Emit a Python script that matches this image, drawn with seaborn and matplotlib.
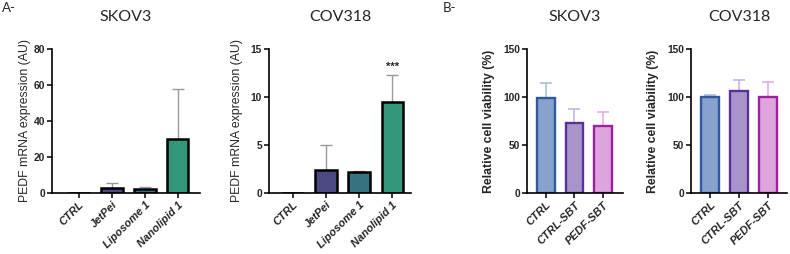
import numpy as np
import pandas as pd
import matplotlib
matplotlib.use("Agg")
import matplotlib.pyplot as plt
import seaborn as sns

# ---------------- data ----------------
a_categories = ["CTRL", "JetPei", "Liposome 1", "Nanolipid 1"]
skov3_mrna = [0.0, 3.0, 2.4, 29.8]
skov3_mrna_sd = [0.0, 2.7, 1.1, 27.8]
cov318_mrna = [0.0, 2.4, 2.2, 9.45]
cov318_mrna_sd = [0.0, 2.6, 0.1, 2.85]

b_categories = ["CTRL", "CTRL-SBT", "PEDF-SBT"]
skov3_viab = [99.4, 72.6, 70.2]
skov3_viab_sd = [15.6, 15.4, 14.2]
cov318_viab = [99.7, 106.3, 100.4]
cov318_viab_sd = [2.3, 11.7, 15.2]

a_ticks_skov3 = [0, 20, 40, 60, 80]
a_ticks_cov318 = [0, 5, 10, 15]
b_ticks = [0, 50, 100, 150]

# ---------------- style ----------------
sns.set_theme(style="ticks")
plt.rcParams["font.family"] = ["Liberation Sans", "DejaVu Sans"]

a_fill = ["#ffffff", "#433f8b", "#2b7a8d", "#23a883"]
b_fill = ["#7ba0d8", "#a58bd4", "#e89ae8"]
b_edge = ["#2f5aa0", "#5a3296", "#a0209e"]
b_err = ["#a3bce4", "#c4ade6", "#e7a6ea"]

W, H = 790, 254
fig = plt.figure(figsize=(W / 100, H / 100), dpi=100)


def rect(x0, x1, ytop, ybot):
    return [x0 / W, (H - ybot) / H, (x1 - x0) / W, (ybot - ytop) / H]


def style_axes(ax, ylim, yticks, xlim):
    ax.set_ylim(*ylim)
    ax.set_yticks(yticks)
    ax.set_xlim(*xlim)
    sns.despine(ax=ax)
    for s in ["left", "bottom"]:
        ax.spines[s].set_linewidth(1.2)
        ax.spines[s].set_color("black")
    ax.tick_params(axis="both", length=3.5, width=1.1, color="black", pad=1.5)
    for lab in ax.get_yticklabels():
        lab.set_fontsize(7.4)
        lab.set_fontweight("bold")
    for lab in ax.get_xticklabels():
        lab.set_fontsize(7.9)
        lab.set_fontweight("bold")
        lab.set_fontstyle("italic")
        lab.set_rotation(45)
        lab.set_ha("right")
        lab.set_rotation_mode("anchor")
    ax.set_xlabel("")


def panel_a(ax, vals, sds, title, yticks, xlim, label_x):
    df = pd.DataFrame({"cat": a_categories, "val": vals})
    sns.barplot(data=df, x="cat", y="val", hue="cat", palette=a_fill,
                order=a_categories, hue_order=a_categories, legend=False,
                errorbar=None, width=0.64, edgecolor="black", linewidth=1.8,
                ax=ax, zorder=2)
    pos = np.arange(len(a_categories))
    lower = np.zeros(len(sds))
    ax.errorbar(pos[1:], np.array(vals)[1:], yerr=[lower[1:], np.array(sds)[1:]],
                fmt="none", ecolor="#9a9a9a", elinewidth=1.0, capsize=4.0,
                capthick=1.0, zorder=1)
    style_axes(ax, (0, yticks[-1]), yticks, xlim)
    ax.set_ylabel("PEDF mRNA expression (AU)", fontsize=8.8)
    ax.yaxis.set_label_coords(label_x, 0.5)
    ax.set_title(title, fontsize=11.5, family="Lato", pad=20)


def panel_b(ax, vals, sds, title, xlim, label_x):
    df = pd.DataFrame({"cat": b_categories, "val": vals})
    sns.barplot(data=df, x="cat", y="val", hue="cat", palette=b_fill,
                order=b_categories, hue_order=b_categories, legend=False,
                errorbar=None, width=0.62, linewidth=1.7, ax=ax, zorder=2)
    bars = [p for c in ax.containers for p in c]
    for p, ec in zip(bars, b_edge):
        p.set_edgecolor(ec)
    pos = np.arange(len(b_categories))
    for i in range(len(b_categories)):
        ax.errorbar([pos[i]], [vals[i]], yerr=[[0], [sds[i]]], fmt="none",
                    ecolor=b_err[i], elinewidth=1.1, capsize=4.0,
                    capthick=1.1, zorder=1)
    style_axes(ax, (0, 150), b_ticks, xlim)
    ax.set_ylabel("Relative cell viability (%)", fontsize=8.8, fontweight="bold")
    ax.yaxis.set_label_coords(label_x, 0.5)
    ax.set_title(title, fontsize=11.5, family="Lato", pad=20)


ax1 = fig.add_axes(rect(52, 200, 49, 193))
panel_a(ax1, skov3_mrna, skov3_mrna_sd, "SKOV3", a_ticks_skov3, (-0.82, 3.67), -0.145)

ax2 = fig.add_axes(rect(269, 411, 49, 193))
panel_a(ax2, cov318_mrna, cov318_mrna_sd, "COV318", a_ticks_cov318, (-0.72, 3.57), -0.185)
ax2.text(3, cov318_mrna[3] + cov318_mrna_sd[3] + 0.35, "***", ha="center",
         va="bottom", fontsize=8, fontweight="bold")

ax3 = fig.add_axes(rect(527, 623, 49, 193))
panel_b(ax3, skov3_viab, skov3_viab_sd, "SKOV3", (-0.66, 2.7), -0.33)

ax4 = fig.add_axes(rect(691, 787, 49, 193))
panel_b(ax4, cov318_viab, cov318_viab_sd, "COV318", (-0.67, 2.66), -0.33)

fig.text(2 / W, 1 - 2 / H, "A-", family="Lato", fontsize=9.5, va="top", ha="left")
fig.text(443 / W, 1 - 2 / H, "B-", family="Lato", fontsize=9.5, va="top", ha="left")

fig.savefig("out.png", dpi=100)
